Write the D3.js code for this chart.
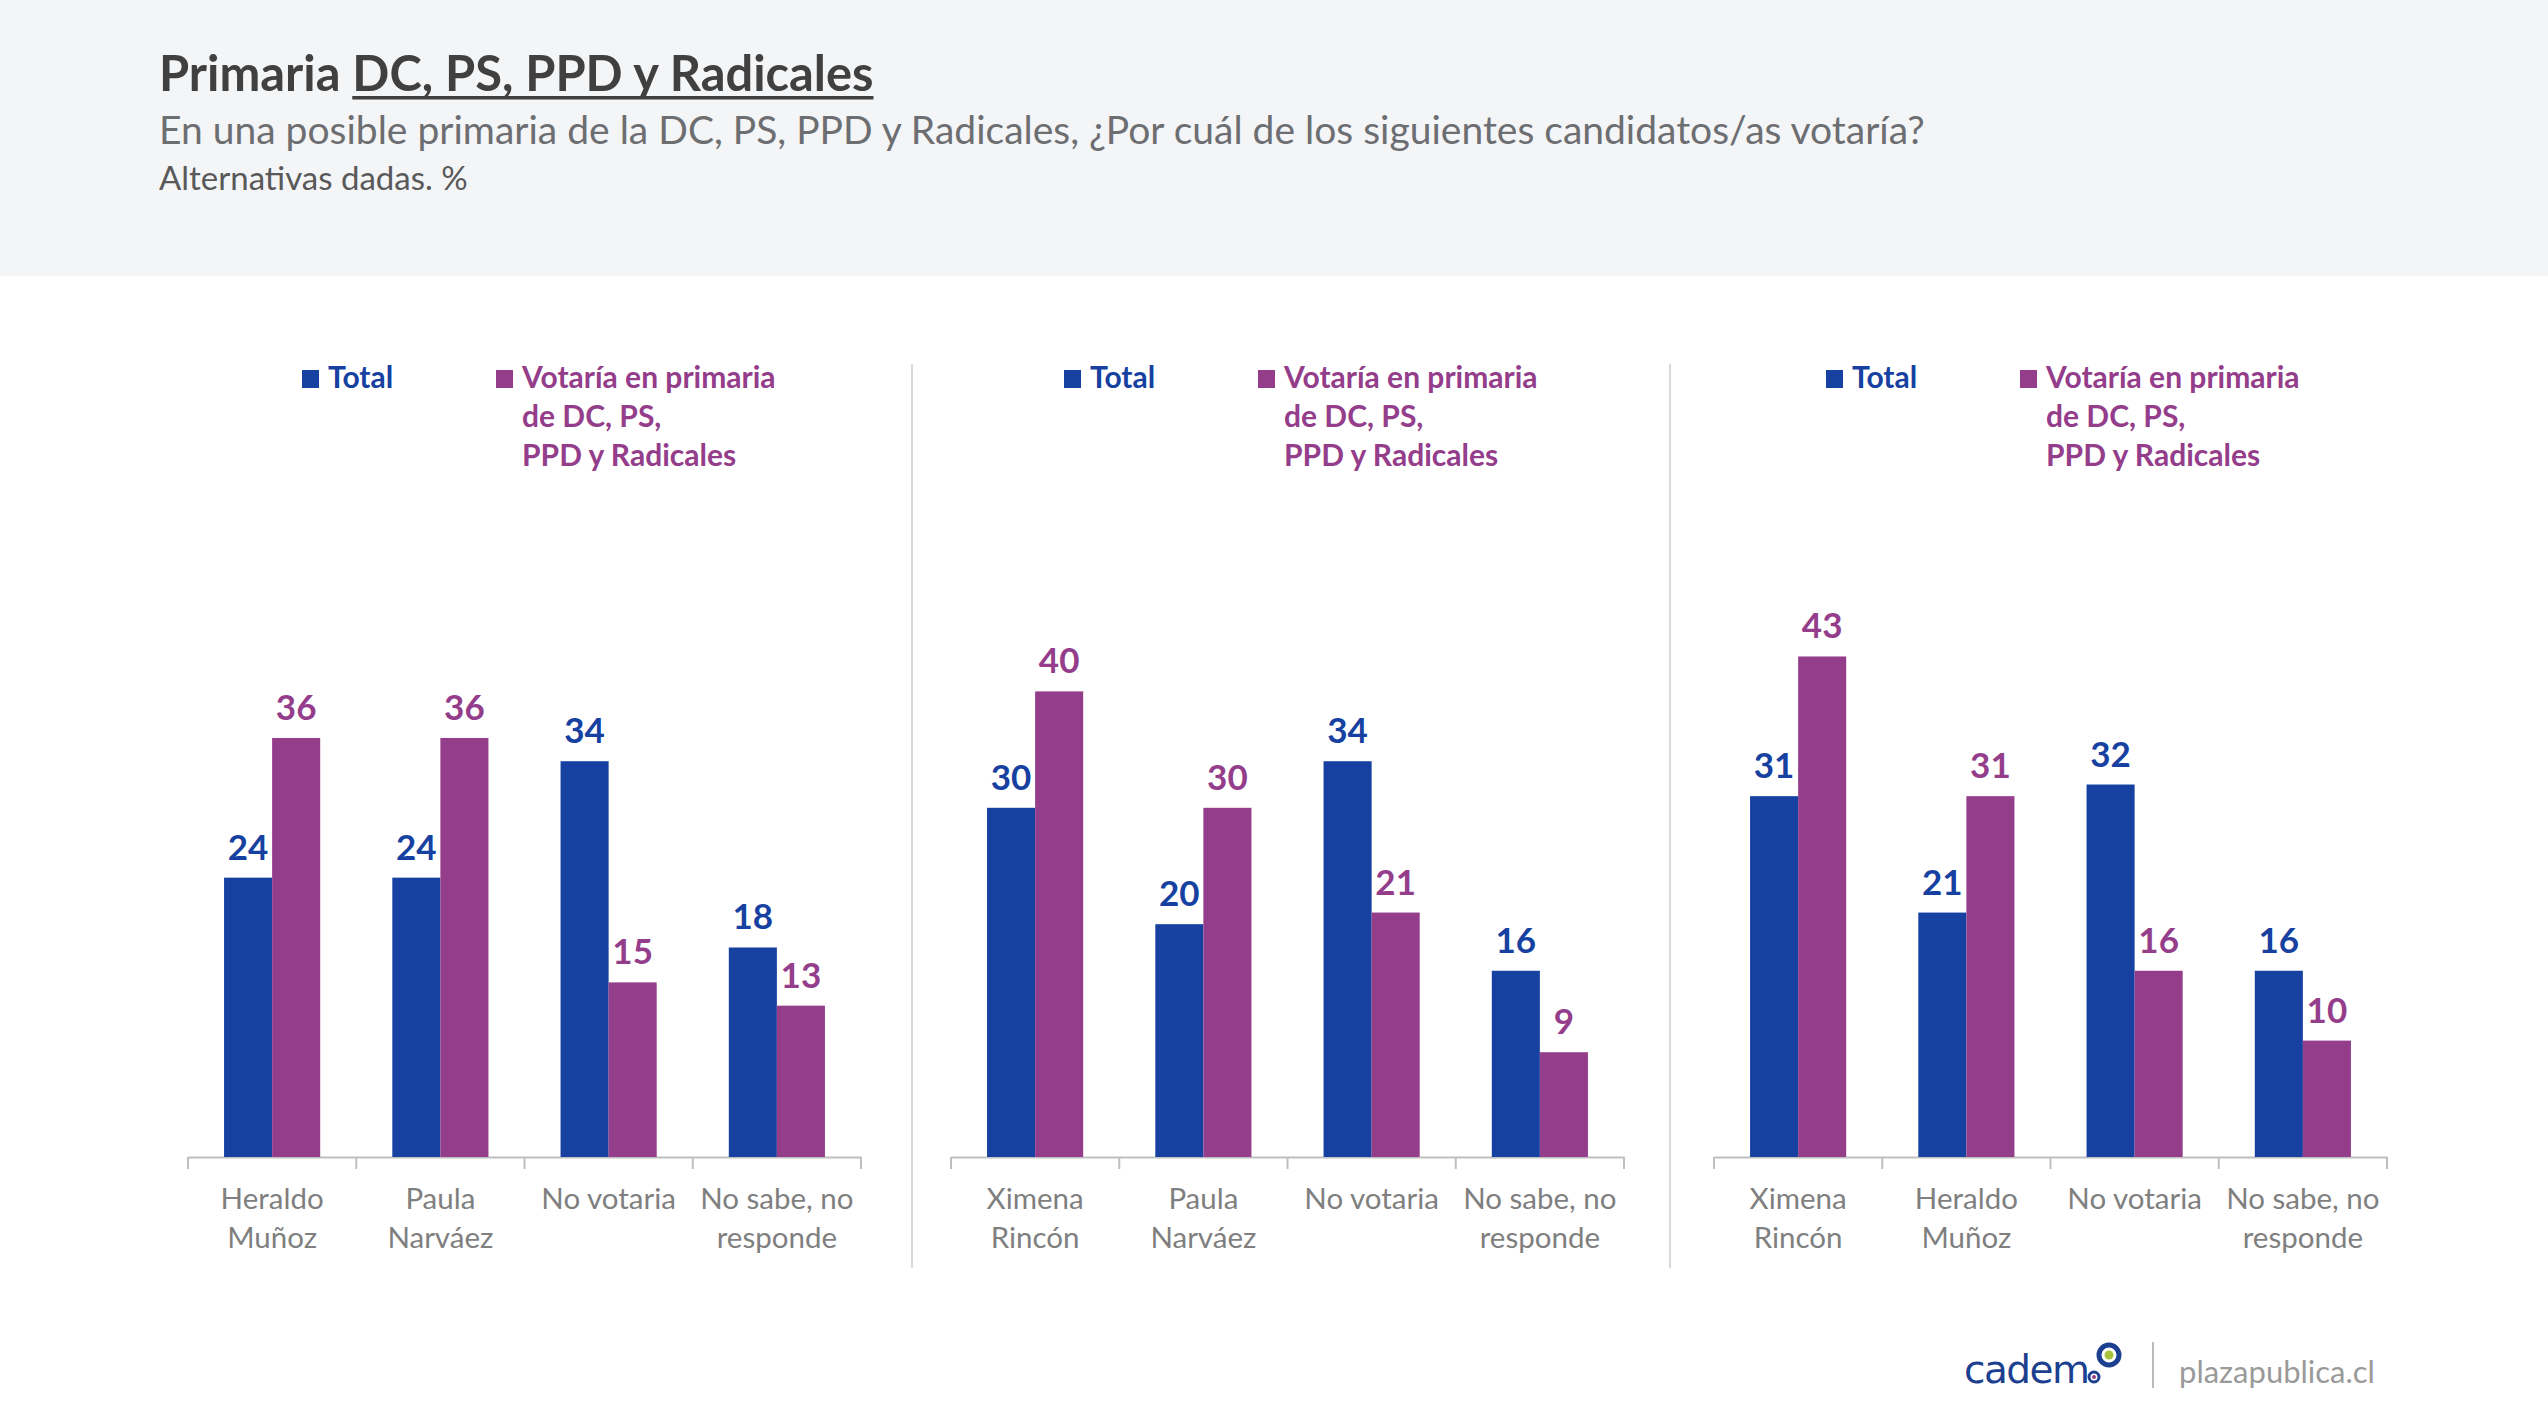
<!DOCTYPE html>
<html><head><meta charset="utf-8">
<script src="https://cdn.jsdelivr.net/npm/d3@7"></script>
<style>
html,body{margin:0;padding:0;background:#fff;}
svg{display:block;font-family:Lato,"Noto Sans",sans-serif;}
</style></head>
<body>
<svg id="c" width="2548" height="1424"></svg>
<script>
const seriesNames = ["Total", "Votaría en primaria de DC, PS, PPD y Radicales"];
const legendLines = [["Total"], ["Votaría en primaria", "de DC, PS,", "PPD y Radicales"]];

const categories1 = [["Heraldo","Muñoz"], ["Paula","Narváez"], ["No votaria"], ["No sabe, no","responde"]];
const total1 = [24, 24, 34, 18];
const votaria1 = [36, 36, 15, 13];

const categories2 = [["Ximena","Rincón"], ["Paula","Narváez"], ["No votaria"], ["No sabe, no","responde"]];
const total2 = [30, 20, 34, 16];
const votaria2 = [40, 30, 21, 9];

const categories3 = [["Ximena","Rincón"], ["Heraldo","Muñoz"], ["No votaria"], ["No sabe, no","responde"]];
const total3 = [31, 21, 32, 16];
const votaria3 = [43, 31, 16, 10];

const titleText = "Primaria ";
const titleUnderlined = "DC, PS, PPD y Radicales";
const subtitleText = "En una posible primaria de la DC, PS, PPD y Radicales, ¿Por cuál de los siguientes candidatos/as votaría?";
const noteText = "Alternativas dadas. %";

const BLUE = "#1641a0", PURPLE = "#943d8b";
const svg = d3.select("#c");

svg.append("rect").attr("x",0).attr("y",0).attr("width",2548).attr("height",276).attr("fill","#f4f5f7");
const t = svg.append("text").attr("x",159).attr("y",91).attr("font-size",48.8).attr("font-weight",700).attr("fill","#404040");
const t1 = t.append("tspan").text(titleText);
const t2 = t.append("tspan").text(titleUnderlined);
const ux0 = 159 + t1.node().getComputedTextLength();
const uw = t2.node().getComputedTextLength();
svg.append("rect").attr("x", ux0).attr("y", 96).attr("width", uw).attr("height", 3.5).attr("fill","#404040");
svg.append("text").attr("x",159).attr("y",144).attr("font-size",39).attr("fill","#6d6e71").text(subtitleText);
svg.append("text").attr("x",159).attr("y",190).attr("font-size",33).attr("fill","#595959").text(noteText);

const panels = [
  {cats: categories1, a: total1, b: votaria1, x0: 188},
  {cats: categories2, a: total2, b: votaria2, x0: 951},
  {cats: categories3, a: total3, b: votaria3, x0: 1714}
];
const W = 673, base = 1157;
const y = d3.scaleLinear().domain([0, 50]).range([base, base - 582]);

panels.forEach((p, pi) => {
  const g = svg.append("g");
  const x = d3.scaleBand().domain(d3.range(p.cats.length)).range([p.x0, p.x0 + W]).padding(0);
  const x1 = d3.scaleBand().domain([0,1]).range([0, x.bandwidth()]).paddingInner(0).paddingOuter(0.75);
  const axis = d3.axisBottom(x).tickSize(0).tickFormat("");
  const ag = g.append("g").attr("transform", `translate(0,${base})`).call(axis);
  ag.select(".domain").attr("stroke","#bfbfbf").attr("stroke-width",2);
  const bounds = d3.range(p.cats.length + 1).map(i => p.x0 + i * x.step());
  g.selectAll("line.tk").data(bounds).join("line").attr("class","tk")
    .attr("x1", d => d).attr("x2", d => d).attr("y1", base).attr("y2", base + 12)
    .attr("stroke","#bfbfbf").attr("stroke-width",2);
  const data = p.cats.map((c, i) => ({i, vals: [p.a[i], p.b[i]]}));
  data.forEach(d => {
    d.vals.forEach((v, s) => {
      const bx = x(d.i) + x1(s);
      g.append("rect").attr("x", bx).attr("y", y(v)).attr("width", x1.bandwidth()).attr("height", base - y(v))
        .attr("fill", s === 0 ? BLUE : PURPLE);
      g.append("text").attr("x", bx + x1.bandwidth()/2).attr("y", y(v) - 18).attr("text-anchor","middle")
        .attr("font-size",35).attr("font-weight",700).attr("fill", s === 0 ? BLUE : PURPLE).text(v);
    });
    const lab = g.append("text").attr("text-anchor","middle").attr("font-size",29.5).attr("fill","#7f7f7f");
    p.cats[d.i].forEach((line, li) => {
      lab.append("tspan").attr("x", x(d.i) + x.bandwidth()/2).attr("y", 1209 + li*39).text(line);
    });
  });
  const lx = 302 + pi * 762;
  const leg = g.append("g");
  [[lx, 0], [lx + 194, 1]].forEach(([xx, s]) => {
    leg.append("rect").attr("x", xx).attr("y", 370).attr("width", 17).attr("height", 18).attr("fill", s === 0 ? BLUE : PURPLE);
    const tt = leg.append("text").attr("font-size",30).attr("font-weight",700).attr("fill", s === 0 ? BLUE : PURPLE);
    legendLines[s].forEach((line, li) => tt.append("tspan").attr("x", xx + 26).attr("y", 388 + li*39).text(line));
  });
});

[912, 1670].forEach(sx => svg.append("line").attr("x1",sx).attr("x2",sx).attr("y1",364).attr("y2",1268).attr("stroke","#d9d9d9").attr("stroke-width",2));

// footer logos
svg.append("text").attr("x",1964).attr("y",1383).attr("font-size",39).attr("font-family","'DejaVu Sans',sans-serif").attr("fill","#1d3f8f").attr("letter-spacing",-1.5).text("cadem");
svg.append("circle").attr("cx",2109).attr("cy",1355).attr("r",10).attr("fill","none").attr("stroke","#1d3f8f").attr("stroke-width",5);
svg.append("circle").attr("cx",2109).attr("cy",1355).attr("r",4.5).attr("fill","#a8c43c");
svg.append("circle").attr("cx",2094).attr("cy",1377).attr("r",5).attr("fill","none").attr("stroke","#1d3f8f").attr("stroke-width",3);
svg.append("circle").attr("cx",2094).attr("cy",1377).attr("r",2).attr("fill","#943d8b");
svg.append("line").attr("x1",2153).attr("x2",2153).attr("y1",1342).attr("y2",1388).attr("stroke","#bbbbbb").attr("stroke-width",2);
svg.append("text").attr("x",2179).attr("y",1383).attr("font-size",31).attr("fill","#9a9a9a").text("plazapublica.cl");
</script>
</body></html>
